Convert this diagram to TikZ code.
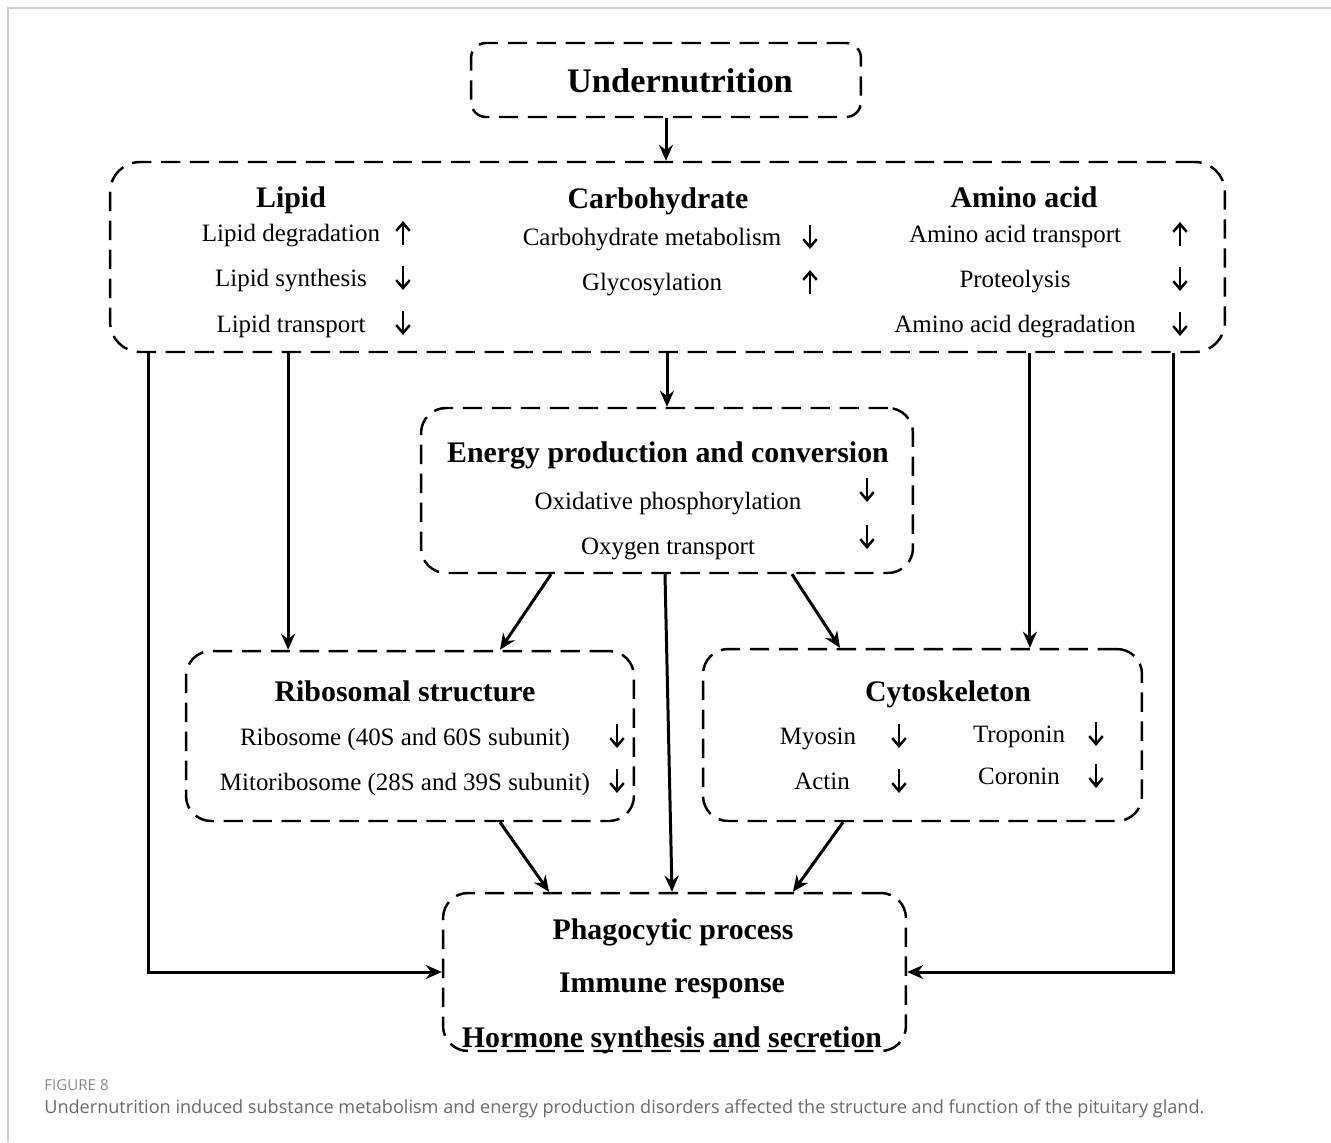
\documentclass[tikz,border=0pt]{standalone}
\usepackage{fontspec}
\setmainfont{Liberation Serif}
\newfontfamily\capfont{Open Sans}
\usetikzlibrary{arrows.meta,positioning}
\definecolor{capgray}{RGB}{105,105,105}
\definecolor{framegray}{RGB}{205,205,205}

\begin{document}
\begin{tikzpicture}[
  x=0.02cm, y=-0.02cm,
  box/.style={draw, line width=1.4pt, dash pattern=on 11pt off 5.5pt, rounded corners=0.5cm, inner sep=0pt},
  head/.style={font=\bfseries\fontsize{17}{20}\selectfont, yshift=-0.06cm},
  item/.style={font=\fontsize{14.2}{17}\selectfont, yshift=-0.06cm},
  arrow/.style={-{Stealth[length=3.2mm, width=2.8mm]}, line width=1.7pt},
  trend/.style={-{Straight Barb[length=1.6mm, width=2.7mm]}, line width=1.4pt},
  upmark/.pic={\draw[trend] (0,12) -- (0,-12);},
  downmark/.pic={\draw[trend] (0,-12) -- (0,12);}
]
  \useasboundingbox (0,0) rectangle (1331,1142);
  \draw[framegray, line width=1.1pt] (8,1142) -- (8,8) -- (1331,8);

  % Boxes
  \node[box, rounded corners=0.3cm, minimum width=7.8cm, minimum height=1.48cm] (under) at (666,80) {};
  \node[box, rounded corners=0.6cm, minimum width=22.3cm, minimum height=3.8cm] (meta) at (667.5,257) {};
  \node[box, minimum width=9.84cm, minimum height=3.3cm] (energy) at (667,490.5) {};
  \node[box, minimum width=8.96cm, minimum height=3.4cm] (ribo) at (410,736) {};
  \node[box, minimum width=8.78cm, minimum height=3.44cm] (cyto) at (922.5,735) {};
  \node[box, minimum width=9.26cm, minimum height=3.16cm] (output) at (674.5,972) {};

  % Undernutrition
  \node[head, font=\bfseries\fontsize{19.6}{23}\selectfont] (undertext) at (680,78) {Undernutrition};

  % Lipid
  \node[head] (lipid) at (291,197) {Lipid};
  \node[item] (lipdeg) at (291,233) {Lipid degradation};
  \node[item] (lipsyn) at (291,278) {Lipid synthesis};
  \node[item] (liptra) at (291,323) {Lipid transport};
  \pic at (403,233) {upmark};
  \pic at (403,278) {downmark};
  \pic at (403,323) {downmark};

  % Carbohydrate
  \node[head] (carb) at (658,198) {Carbohydrate};
  \node[item] (carbmet) at (652,237) {Carbohydrate metabolism};
  \node[item] (glyco) at (652,282) {Glycosylation};
  \pic at (810,237) {downmark};
  \pic at (810,282) {upmark};

  % Amino acid
  \node[head] (amino) at (1024,194) {Amino acid};
  \node[item] (aatra) at (1015,234) {Amino acid transport};
  \node[item] (prot) at (1015,279) {Proteolysis};
  \node[item] (aadeg) at (1015,324) {Amino acid degradation};
  \pic at (1180,234) {upmark};
  \pic at (1180,279) {downmark};
  \pic at (1180,324) {downmark};

  % Energy
  \node[head] (energyhead) at (668,452) {Energy production and conversion};
  \node[item] (oxphos) at (668,501) {Oxidative phosphorylation};
  \node[item] (oxtra) at (668,546) {Oxygen transport};
  \pic at (867,490) {downmark};
  \pic at (867,537) {downmark};

  % Ribosome
  \node[head] (ribohead) at (405,688) {Ribosomal structure};
  \node[item] (ribosome) at (405,736) {Ribosome (40S and 60S subunit)};
  \node[item] (mitorib) at (405,781) {Mitoribosome (28S and 39S subunit)};
  \pic at (617,736) {downmark};
  \pic at (617,781) {downmark};

  % Cytoskeleton
  \node[head] (cytohead) at (948,691) {Cytoskeleton};
  \node[item] (myosin) at (818,736) {Myosin};
  \node[item] (actin) at (822,778) {Actin};
  \node[item] (tropo) at (1019,734) {Troponin};
  \node[item] (coro) at (1019,773) {Coronin};
  \pic at (899,736) {downmark};
  \pic at (899,781) {downmark};
  \pic at (1096,734) {downmark};
  \pic at (1096,776) {downmark};

  % Functions
  \node[head] (phago) at (673,929) {Phagocytic process};
  \node[head] (immune) at (672,983) {Immune response};
  \node[head] (hormone) at (672,1037) {Hormone synthesis and secretion};

  % Arrows
  \draw[arrow] (under) -- (under.south |- meta.north);
  \draw[arrow] (meta.south -| energy.north) -- (energy.north);
  \coordinate (lipL) at ([xshift=-10.39cm]meta.south);
  \coordinate (lipR) at ([xshift=-7.59cm]meta.south);
  \coordinate (aminoL) at ([xshift=7.25cm]meta.south);
  \coordinate (aminoR) at ([xshift=10.13cm]meta.south);
  \draw[arrow] (lipL) |- (output.west);
  \draw[arrow] (lipR) -- (lipR |- ribo.north);
  \draw[arrow] (aminoL) -- (aminoL |- cyto.north);
  \draw[arrow] (aminoR) |- (output.east);
  \draw[arrow] ([xshift=-2.32cm]energy.south) -- ([xshift=1.8cm]ribo.north);
  \draw[arrow] ([xshift=-0.04cm]energy.south) -- ([xshift=-0.05cm]output.north);
  \draw[arrow] ([xshift=2.5cm]energy.south) -- ([xshift=-1.65cm]cyto.north);
  \draw[arrow] ([xshift=1.8cm]ribo.south) -- ([xshift=-2.51cm]output.north);
  \draw[arrow] ([xshift=-1.59cm]cyto.south) -- ([xshift=2.37cm]output.north);

  % Caption
  \node[anchor=west, inner sep=0pt, text=capgray!80, font=\capfont\fontsize{8.6}{10}\selectfont] (fignum) at (44,1085) {FIGURE 8};
  \node[anchor=west, inner sep=0pt, text=capgray, font=\capfont\fontsize{10.3}{12}\selectfont] (caption) at (44,1109) {Undernutrition induced substance metabolism and energy production disorders affected the structure and function of the pituitary gland.};
\end{tikzpicture}
\end{document}
